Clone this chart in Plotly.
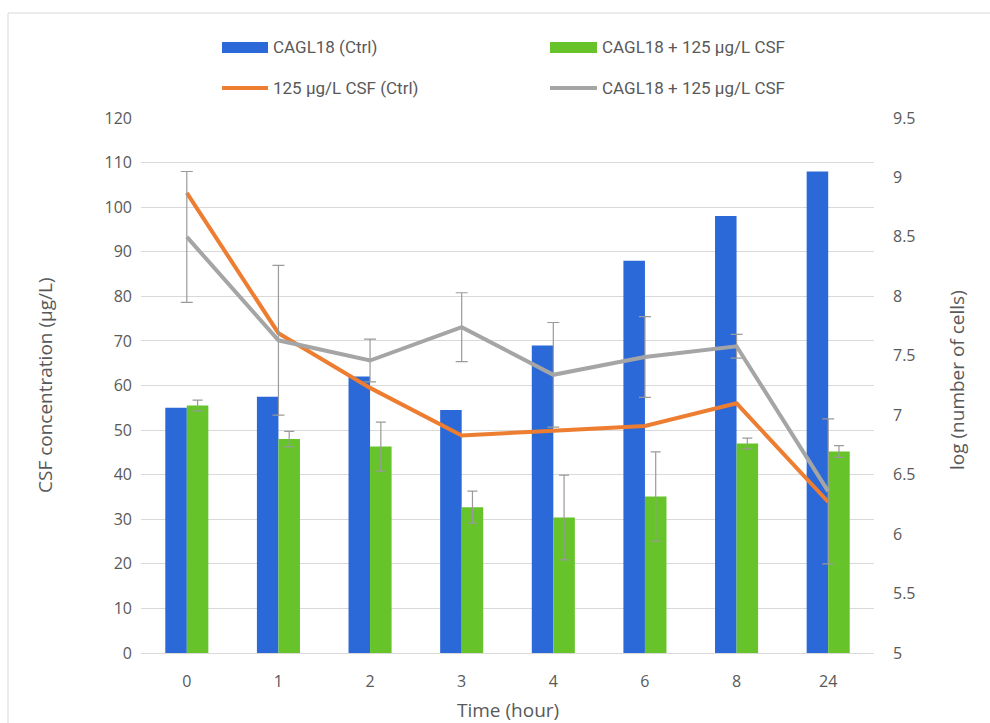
import plotly.graph_objects as go

# Sampling times (hours)
hours = ["0", "1", "2", "3", "4", "6", "8", "24"]

# CSF concentration (µg/L) - bars, left axis
cagl18_ctrl = [55, 57.5, 62, 54.5, 69, 88, 98, 108]
cagl18_csf = [55.5, 48, 46.3, 32.7, 30.4, 35.1, 47, 45.2]
cagl18_csf_err = [1.2, 1.7, 5.5, 3.6, 9.5, 10, 1.2, 1.3]

# log(number of cells) - lines, right axis
csf_ctrl_log = [8.87, 7.69, 7.23, 6.83, 6.87, 6.91, 7.10, 6.27]
cagl18_csf_log = [8.50, 7.63, 7.46, 7.74, 7.34, 7.49, 7.58, 6.36]
cagl18_csf_log_err = [0.55, 0.63, 0.18, 0.29, 0.44, 0.34, 0.10, 0.61]

BLUE = "#2b68d8"
GREEN = "#66c42a"
ORANGE = "#ed7d31"
GRAY = "#a5a5a5"
TEXT = "#595959"
GRID = "#d9d9d9"
ERR = "#9a9a9a"

W, H = 990, 723
L, R, T, B = 141, 116, 118, 70
PW, PH = W - L - R, H - T - B


def px(x):
    return (x - L) / PW


def py(y):
    return (H - B - y) / PH


FONT = "Open Sans, DejaVu Sans, sans-serif"
LEG_FONT = "Liberation Sans Narrow, Roboto, sans-serif"

fig = go.Figure()

fig.add_trace(go.Bar(
    x=hours, y=cagl18_ctrl, name="CAGL18 (Ctrl)",
    marker=dict(color=BLUE, line=dict(width=0)), showlegend=False,
))
fig.add_trace(go.Bar(
    x=hours, y=cagl18_csf, name="CAGL18 + 125 µg/L CSF",
    marker=dict(color=GREEN, line=dict(width=0)), showlegend=False,
    error_y=dict(type="data", array=cagl18_csf_err, color=ERR, thickness=1.2, width=5),
))
fig.add_trace(go.Scatter(
    x=hours, y=csf_ctrl_log, name="125 µg/L CSF (Ctrl)", yaxis="y2",
    mode="lines", line=dict(color=ORANGE, width=4), showlegend=False,
))
fig.add_trace(go.Scatter(
    x=hours, y=cagl18_csf_log, name="CAGL18 + 125 µg/L CSF", yaxis="y2",
    mode="lines", line=dict(color=GRAY, width=4), showlegend=False,
    error_y=dict(type="data", array=cagl18_csf_log_err, color=ERR, thickness=1.2, width=6),
))

shapes = [
    # outer frame
    dict(type="rect", xref="paper", yref="paper",
         x0=px(8), y0=py(13), x1=px(1005), y1=py(740),
         line=dict(color=GRID, width=1), fillcolor="rgba(0,0,0,0)", layer="below"),
    # legend swatches
    dict(type="rect", xref="paper", yref="paper",
         x0=px(222), x1=px(268), y0=py(53), y1=py(42),
         fillcolor=BLUE, line=dict(width=0)),
    dict(type="rect", xref="paper", yref="paper",
         x0=px(550), x1=px(597), y0=py(53), y1=py(42),
         fillcolor=GREEN, line=dict(width=0)),
    dict(type="line", xref="paper", yref="paper",
         x0=px(222), x1=px(268), y0=py(88), y1=py(88),
         line=dict(color=ORANGE, width=4)),
    dict(type="line", xref="paper", yref="paper",
         x0=px(550), x1=px(597), y0=py(88), y1=py(88),
         line=dict(color=GRAY, width=4)),
]

legend_items = [
    ("CAGL18 (Ctrl)", 271, 47),
    ("CAGL18 + 125 µg/L CSF", 600, 47),
    ("125 µg/L CSF (Ctrl)", 271, 88),
    ("CAGL18 + 125 µg/L CSF", 600, 88),
]
annotations = [
    dict(text=t, xref="paper", yref="paper", x=px(x), y=py(y),
         xanchor="left", yanchor="middle", showarrow=False,
         font=dict(family=LEG_FONT, size=17, color=TEXT))
    for t, x, y in legend_items
]
annotations += [
    dict(text="CSF concentration (µg/L)", xref="paper", yref="paper",
         x=px(45), y=py(385), textangle=-90, showarrow=False,
         xanchor="center", yanchor="middle",
         font=dict(family=FONT, size=19, color=TEXT)),
    dict(text="log (number of cells)", xref="paper", yref="paper",
         x=px(957), y=py(380), textangle=-90, showarrow=False,
         xanchor="center", yanchor="middle",
         font=dict(family=FONT, size=19, color=TEXT)),
    dict(text="Time (hour)", xref="paper", yref="paper",
         x=px(508), y=py(710), showarrow=False,
         xanchor="center", yanchor="middle",
         font=dict(family=FONT, size=19, color=TEXT)),
]

fig.update_layout(
    width=W, height=H,
    margin=dict(l=L, r=R, t=T, b=B, pad=0),
    paper_bgcolor="white", plot_bgcolor="white",
    barmode="group", bargap=0.53, bargroupgap=0,
    font=dict(family=FONT, size=16, color=TEXT),
    shapes=shapes, annotations=annotations,
    xaxis=dict(
        type="category", showgrid=False, showline=True, linecolor=GRID,
        linewidth=1, ticks="", tickfont=dict(size=16, color=TEXT),
        ticklabelstandoff=14,
    ),
    yaxis=dict(
        range=[0, 120], dtick=10, showgrid=True, gridcolor=GRID, gridwidth=1,
        zeroline=False, showline=False, ticks="",
        tickfont=dict(size=16, color=TEXT), ticklabelstandoff=8,
    ),
    yaxis2=dict(
        range=[5, 9.5], dtick=0.5, overlaying="y", side="right",
        showgrid=False, zeroline=False, showline=False, ticks="",
        tickfont=dict(size=16, color=TEXT), ticklabelstandoff=18,
    ),
)

fig.write_html("out.html")
